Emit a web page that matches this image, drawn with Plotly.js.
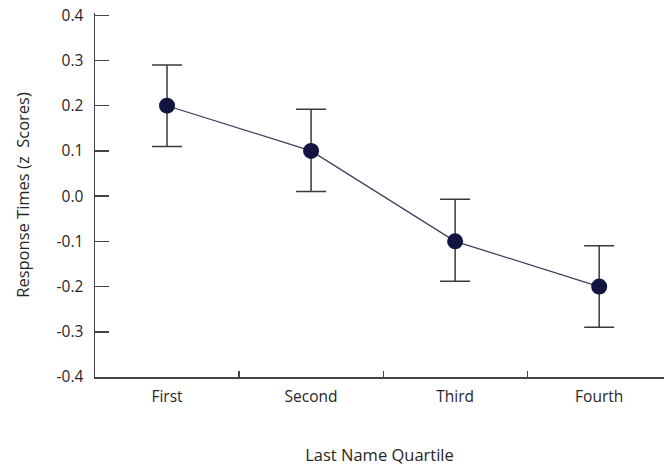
<!DOCTYPE html>
<html>
<head>
<meta charset="utf-8">
<script src="https://cdn.plot.ly/plotly-3.0.1.min.js"></script>
<style>html,body{margin:0;padding:0;background:#fff;}#chart{width:664px;height:466px;}</style>
</head>
<body>
<div id="chart"></div>
<script>
const quartiles = ["First", "Second", "Third", "Fourth"];
const responseZ = [0.2, 0.1, -0.1, -0.2];
const errPlus = [0.09, 0.092, 0.093, 0.09];
const errMinus = [0.09, 0.09, 0.088, 0.09];
const yTickVals = [-0.4, -0.3, -0.2, -0.1, 0.0, 0.1, 0.2, 0.3, 0.4];
const yTickText = ["-0.4", "-0.3", "-0.2", "-0.1", "0.0", "0.1", "0.2", "0.3", "0.4"];

const FONT = '"Open Sans", "Liberation Sans", sans-serif';
const TXT = '#262626';
const Y_RANGE = [-0.4, 0.405];
const trace = {
  x: quartiles,
  y: responseZ,
  type: 'scatter',
  mode: 'lines+markers',
  line: {color: '#3c3c5c', width: 1.2},
  marker: {color: '#13143f', size: 16},
  error_y: {type: 'data', symmetric: false, array: errPlus, arrayminus: errMinus,
            color: '#3a3a3a', thickness: 1.5, width: 15},
  hoverinfo: 'skip'
};
// invisible companion trace so the tick-mark overlay axis is drawn
const tickTrace = {
  x: quartiles, y: responseZ, yaxis: 'y2', type: 'scatter', mode: 'markers',
  marker: {opacity: 0, size: 1}, hoverinfo: 'skip', showlegend: false
};
const layout = {
  width: 664, height: 466,
  margin: {l: 95, r: 0, t: 13, b: 89},
  paper_bgcolor: '#fff', plot_bgcolor: '#fff',
  showlegend: false,
  font: {family: FONT, size: 15.5, color: TXT},
  xaxis: {
    type: 'category', range: [-0.5, 3.45],
    showgrid: false, zeroline: false,
    showline: true, linecolor: '#444', linewidth: 1.5,
    ticks: 'inside', tickson: 'boundaries', ticklen: 6, tickwidth: 1.2, tickcolor: '#444',
    ticklabelstandoff: 5,
    tickfont: {family: FONT, size: 15.5, color: TXT},
    title: {text: 'Last Name Quartile', standoff: 46, font: {family: FONT, size: 16.5, color: TXT}},
    automargin: false
  },
  yaxis: {
    range: Y_RANGE,
    tickmode: 'array',
    tickvals: yTickVals, ticktext: yTickText,
    showgrid: false, zeroline: false,
    showline: true, linecolor: '#444', linewidth: 1.5,
    ticks: 'outside', ticklen: 7, tickwidth: 1, tickcolor: 'rgba(0,0,0,0)',
    showticklabels: true,
    tickfont: {family: FONT, size: 15.5, color: TXT},
    title: {text: 'Response Times (z  Scores)', standoff: 23, font: {family: FONT, size: 16.5, color: TXT}},
    automargin: false
  },
  yaxis2: {
    overlaying: 'y', anchor: 'x', side: 'left',
    range: Y_RANGE,
    tickmode: 'array', tickvals: yTickVals,
    showgrid: false, zeroline: false, showline: false,
    ticks: 'inside', ticklen: 14, tickwidth: 1.5, tickcolor: '#444',
    showticklabels: false,
    automargin: false
  }
};
Plotly.newPlot('chart', [trace, tickTrace], layout, {displayModeBar: false, staticPlot: true});
</script>
</body>
</html>
